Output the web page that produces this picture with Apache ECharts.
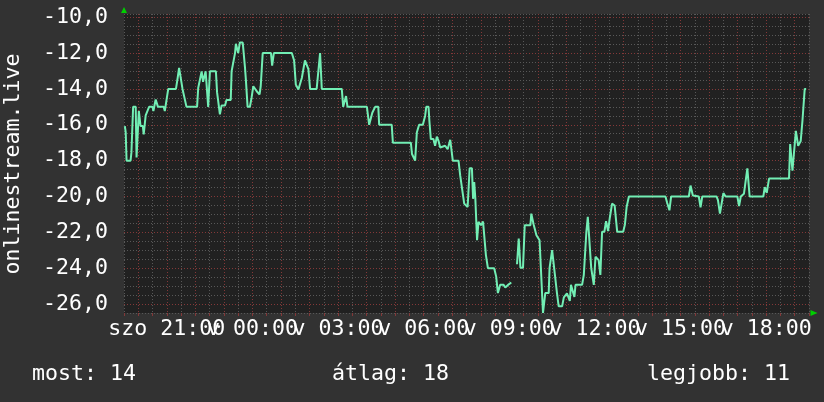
<!DOCTYPE html>
<html>
<head>
<meta charset="utf-8">
<script src="https://cdn.jsdelivr.net/npm/echarts@6/dist/echarts.min.js"></script>
<style>
html,body{margin:0;padding:0;background:#323232;}
#c{width:824px;height:402px;}
</style>
</head>
<body>
<div id="c"></div>
<script>
// time in hours since Saturday 00:00 (24 = Sunday 00:00)
const times = [
19.53,19.56,19.59,19.73,19.76,19.82,19.91,19.94,20.02,20.08,20.16,20.19,20.23,20.26,20.33,20.38,20.50,20.53,20.58,20.61,
20.69,20.89,20.93,20.98,21.05,21.32,21.38,21.43,21.49,21.55,21.69,22.06,22.10,22.16,22.22,22.27,22.36,22.45,22.51,22.72,
22.76,22.86,22.92,23.04,23.09,23.24,23.27,23.39,23.42,23.50,23.56,23.66,23.74,23.77,23.83,23.91,23.97,24.03,24.15,24.20,
24.25,24.29,24.36,24.65,24.69,24.75,25.38,25.46,25.52,25.61,25.73,25.84,25.96,26.02,26.25,26.31,26.37,26.43,27.13,27.18,
27.28,27.33,28.01,28.09,28.20,28.30,28.41,28.44,28.88,28.92,29.55,29.59,29.70,29.76,29.84,29.97,30.05,30.09,30.17,30.20,
30.25,30.34,30.40,30.46,30.52,30.58,30.75,30.84,30.93,31.02,31.22,31.28,31.42,31.54,31.61,31.69,31.73,31.77,31.81,31.87,
31.92,32.01,32.08,32.18,32.25,32.47,32.54,32.60,32.68,32.80,32.86,32.98,33.07,33.16,33.27,33.33,33.39,33.48,33.54,33.74,
33.77,33.85,33.95,34.06,34.11,34.18,34.26,34.38,34.41,34.50,34.54,34.67,34.73,34.85,34.91,35.02,35.12,35.16,35.28,35.32,
35.55,35.61,35.67,35.70,35.75,35.82,35.87,35.96,36.02,36.13,36.19,36.25,36.33,36.39,36.46,36.52,36.60,36.69,36.78,36.99,
37.05,37.11,37.19,38.47,38.53,38.61,38.67,39.29,39.35,39.43,39.64,39.70,39.76,40.26,40.31,40.38,40.50,40.58,40.99,41.05,
41.11,41.22,41.34,41.42,41.90,41.95,42.02,42.10,42.80,42.84,42.92,42.98,43.04,43.12,43.21,43.27,43.35,43.40
];
const values = [
-16.07,-16.43,-18.0,-18.0,-17.54,-15.0,-15.0,-17.82,-15.23,-16.07,-16.07,-16.53,-16.53,-15.47,-15.47,-15.0,-15.0,-15.23,-15.23,-14.59,
-15.0,-15.0,-15.23,-15.23,-14.0,-14.0,-13.39,-12.83,-12.83,-14.0,-15.0,-15.0,-13.95,-13.95,-13.02,-13.6,-13.02,-15.0,-13.02,-13.02,
-14.18,-15.42,-14.92,-14.92,-14.62,-14.62,-13.02,-12.0,-11.48,-12.0,-11.41,-11.41,-12.83,-13.48,-15.0,-15.0,-14.49,-13.85,-14.13,-14.03,
-14.31,-13.85,-12.0,-12.0,-12.7,-12.0,-12.0,-12.41,-13.76,-14.03,-13.39,-12.41,-12.89,-14.0,-14.0,-13.0,-12.0,-14.0,-14.0,-15.0,
-14.4,-15.0,-15.0,-16.0,-15.33,-15.0,-15.0,-16.0,-16.0,-17.0,-17.0,-17.63,-18.0,-16.43,-16.0,-16.0,-15.51,-15.0,-15.0,-15.79,
-16.8,-16.8,-17.17,-16.66,-16.9,-17.27,-17.17,-17.36,-16.84,-18.0,-18.0,-18.84,-20.4,-20.59,-18.43,-18.43,-20.13,-19.2,-20.13,-22.44,
-21.42,-21.6,-21.4,-23.27,-24.0,-24.0,-24.47,-25.39,-24.93,-24.93,-25.08,-24.9,-24.8,null,-23.78,-22.35,-23.97,-23.97,-21.6,-21.6,
-20.96,-21.55,-22.16,-22.44,-22.44,-26.5,-25.39,-25.39,-24.0,-22.99,-22.99,-25.39,-26.13,-26.13,-25.63,-25.4,-25.82,-24.93,-25.6,-24.93,
-24.93,-24.38,-24.38,-21.97,-21.14,-21.14,-24.0,-24.93,-23.36,-23.55,-24.38,-21.97,-21.97,-21.38,-21.93,-21.2,-20.4,-20.5,-21.97,-21.97,
-21.57,-20.59,-20.0,-20.0,-20.35,-20.77,-20.0,-20.0,-19.39,-19.95,-20.0,-20.6,-20.0,-20.0,-20.2,-20.96,-19.81,-20.0,-20.0,-20.53,
-20.0,-19.85,-18.43,-20.0,-20.0,-19.48,-19.8,-19.0,-19.0,-17.08,-18.56,-18.56,-16.34,-17.17,-16.9,-15.79,-14.0,-14.0
];
const xLabelHours = [21, 24, 27, 30, 33, 36, 39, 42];
const xLabelTexts = ['szo 21:00', 'v 00:00', 'v 03:00', 'v 06:00', 'v 09:00', 'v 12:00', 'v 15:00', 'v 18:00'];
const yTickValues = [-26, -24, -22, -20, -18, -16, -14, -12, -10];
const yTickLabels = ['-26,0', '-24,0', '-22,0', '-20,0', '-18,0', '-16,0', '-14,0', '-12,0', '-10,0'];
const yTitle = 'onlinestream.live';
const legendTexts = ['most: 14', 'átlag: 18', 'legjobb: 11'];

const FONT = "'DejaVu Sans Mono', monospace";
const FS = 21.6;
const MINOR = '#585858';
const MAJOR = '#833838';

const data = times.map((t, i) => [t, values[i]]);

function findLabel(v, keys, texts) {
  for (let i = 0; i < keys.length; i++) {
    if (Math.abs(keys[i] - v) < 1e-6) return texts[i];
  }
  return '';
}

const chart = echarts.init(document.getElementById('c'), null, {renderer: 'canvas'});
chart.setOption({
  animation: false,
  backgroundColor: '#323232',
  grid: {
    left: 124, right: 15, top: 14, bottom: 89,
    show: true, backgroundColor: '#212121', borderWidth: 0
  },
  xAxis: {
    type: 'value',
    min: 19.5, max: 43.5, interval: 0.5,
    axisLine: {show: true, lineStyle: {color: '#00d000', width: 0},
      symbol: ['none', 'triangle'], symbolSize: [6, 7], symbolOffset: [0, 5]},
    axisTick: {show: true, length: 3, lineStyle: {color: MAJOR}},
    splitLine: {show: true, lineStyle: {color: [MINOR, MAJOR], type: [1, 2], width: 1}},
    axisLabel: {
      show: true, hideOverlap: false, margin: 5,
      color: '#ffffff', fontFamily: FONT, fontSize: FS,
      formatter: v => findLabel(v, xLabelHours, xLabelTexts)
    }
  },
  yAxis: {
    type: 'value',
    min: -26.5, max: -9.82, interval: 0.5,
    axisLine: {show: true, lineStyle: {color: '#00d000', width: 0},
      symbol: ['none', 'triangle'], symbolSize: [6, 6], symbolOffset: [0, 4]},
    axisTick: {show: false},
    splitLine: {show: true, lineStyle: {color: [MINOR, MAJOR, MINOR, MINOR], type: [1, 2], width: 1}},
    axisLabel: {
      show: true, hideOverlap: false, margin: 16,
      color: '#ffffff', fontFamily: FONT, fontSize: FS,
      formatter: v => findLabel(v, yTickValues, yTickLabels)
    }
  },
  graphic: [
    {type: 'text', x: 13, y: 164, rotation: Math.PI / 2,
      style: {text: yTitle, fill: '#ffffff', font: FS + 'px ' + FONT, align: 'center', verticalAlign: 'middle'}},
    {type: 'text', x: 32, y: 374,
      style: {text: legendTexts[0], fill: '#ffffff', font: FS + 'px ' + FONT, align: 'left', verticalAlign: 'middle'}},
    {type: 'text', x: 332, y: 374,
      style: {text: legendTexts[1], fill: '#ffffff', font: FS + 'px ' + FONT, align: 'left', verticalAlign: 'middle'}},
    {type: 'text', x: 647, y: 374,
      style: {text: legendTexts[2], fill: '#ffffff', font: FS + 'px ' + FONT, align: 'left', verticalAlign: 'middle'}}
  ],
  series: [{
    type: 'line',
    data: data,
    showSymbol: false,
    connectNulls: false,
    lineStyle: {color: '#72eeb4', width: 2},
    emphasis: {disabled: true}
  }]
});
</script>
</body>
</html>
